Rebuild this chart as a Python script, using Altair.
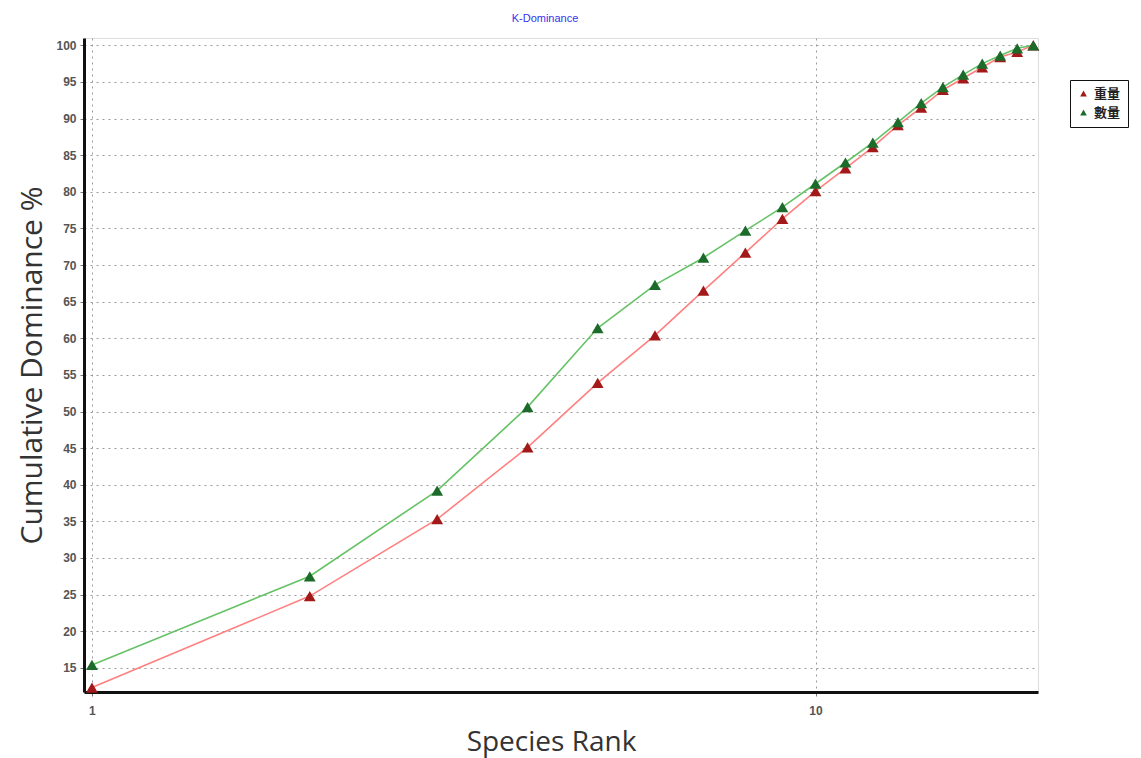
import altair as alt
import pandas as pd

# Cumulative dominance (%) by species rank
ranks = list(range(1, 21))
weight_cum = [12.3, 24.8, 35.3, 45.1, 53.9, 60.4, 66.5, 71.7, 76.3, 80.1,
              83.2, 86.1, 89.1, 91.5, 93.9, 95.5, 97.0, 98.4, 99.1, 100.0]
count_cum = [15.4, 27.5, 39.2, 50.6, 61.4, 67.3, 71.0, 74.7, 77.9, 81.1,
             84.0, 86.7, 89.5, 92.1, 94.3, 96.0, 97.5, 98.6, 99.6, 100.0]
series_names = ["重量", "數量"]
line_colors = ["#ff8080", "#66c266"]
marker_colors = ["#a31818", "#1c6b2a"]
y_ticks = list(range(15, 101, 5))
x_ticks = [1, 10]

df = pd.concat([
    pd.DataFrame({"rank": ranks, "value": weight_cum, "series": series_names[0]}),
    pd.DataFrame({"rank": ranks, "value": count_cum, "series": series_names[1]}),
])

x_enc = alt.X(
    "rank:Q",
    scale=alt.Scale(type="log", domain=[0.975, 20.3], nice=False),
    axis=alt.Axis(
        values=x_ticks, format="d", title="Species Rank",
        labelOverlap=False,
        grid=True, gridDash=[2, 4], gridColor="#9a9a9a",
        domainColor="#111", domainWidth=3,
        tickColor="#777", tickSize=4,
        labelFontSize=12, labelColor="#555", labelFont="Liberation Sans",
        labelFontWeight="bold", labelPadding=9,
        titleFontSize=28, titleFont="Open Sans", titleFontWeight="normal",
        titleColor="#333", titlePadding=12, titleX=467,
    ),
)
y_enc = alt.Y(
    "value:Q",
    scale=alt.Scale(domain=[11.7, 101], nice=False, zero=False),
    axis=alt.Axis(
        values=y_ticks, title="Cumulative Dominance %",
        labelOverlap=False,
        grid=True, gridDash=[2, 4], gridColor="#9a9a9a",
        domainColor="#111", domainWidth=3,
        tickColor="#777", tickSize=4,
        labelFontSize=12, labelColor="#555", labelFont="Liberation Sans",
        labelFontWeight="bold", labelPadding=4,
        titleFontSize=30, titleFont="Open Sans", titleFontWeight="normal",
        titleColor="#333", titlePadding=8,
    ),
)

base = alt.Chart(df).encode(x=x_enc, y=y_enc)

lines = base.mark_line(strokeWidth=1.6).encode(
    color=alt.Color("series:N", scale=alt.Scale(domain=series_names, range=line_colors), legend=None),
    detail="series:N",
)

points = base.mark_point(shape="triangle-up", filled=True, opacity=1, size=140).encode(
    fill=alt.Fill(
        "series:N",
        scale=alt.Scale(domain=series_names, range=marker_colors),
        legend=alt.Legend(
            title=None, orient="none", legendX=986, legendY=42,
            symbolType="triangle-up", symbolSize=45, symbolStrokeWidth=0,
            symbolOpacity=1,
            labelFont="Noto Sans CJK TC", labelFontSize=13, labelFontWeight="bold",
            labelColor="#222", rowPadding=5,
            strokeColor="#111", fillColor="white", padding=7, cornerRadius=0,
        ),
    ),
)

chart = (
    alt.layer(lines, points)
    .resolve_legend(color="independent", fill="independent")
    .resolve_scale(color="independent", fill="independent")
    .properties(
        width=954, height=654,
        title=alt.TitleParams(
            "K-Dominance", fontSize=11, color="#3333ee", fontWeight="normal",
            font="Liberation Sans", anchor="middle", offset=14, dx=-16,
        ),
        autosize=alt.AutoSizeParams(type="none"),
        padding={"left": 84, "top": 38, "right": 103, "bottom": 66},
    )
    .configure_view(stroke="#8a8a8a", strokeWidth=2)
    .configure(background="white")
)

chart.save("out.html", embed_options={"renderer": "svg", "actions": False})
